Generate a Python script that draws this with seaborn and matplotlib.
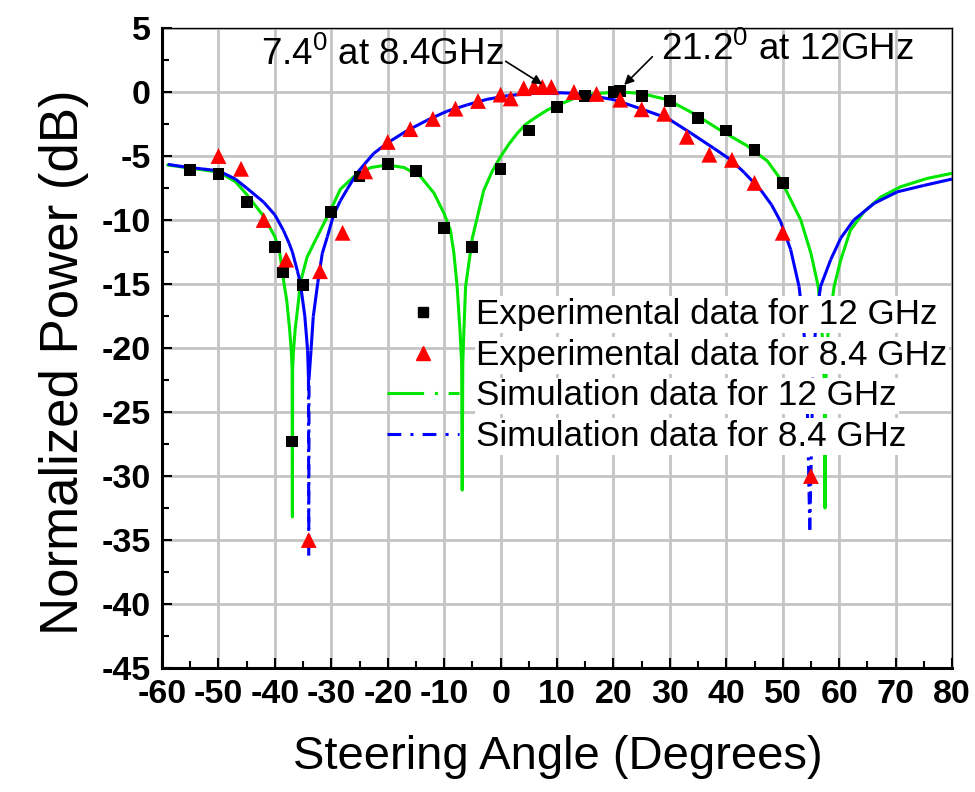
import numpy as np
import matplotlib
matplotlib.use("Agg")
import matplotlib.pyplot as plt
import seaborn as sns
from matplotlib.collections import LineCollection
from matplotlib.lines import Line2D

# Measured beam steering, 12 GHz
exp12_angle = [-55, -50, -45, -40, -38.6, -37, -35, -30, -25, -20, -15, -10, -5,
               0, 5, 10, 15, 20, 21.2, 25, 30, 35, 40, 45, 50]
exp12_power = [-6.1, -6.4, -8.6, -12.1, -14.1, -27.3, -15.1, -9.4, -6.6, -5.6, -6.2,
               -10.6, -12.1, -6.0, -3.0, -1.2, -0.3, 0.0, 0.1, -0.3, -0.7, -2.0,
               -3.0, -4.5, -7.1]

# Measured beam steering, 8.4 GHz
exp84_angle = [-50, -46, -42, -38, -34, -32, -28, -24, -20, -16, -12, -8, -4, 0,
               1.8, 4.1, 5.9, 7.4, 9.0, 13, 17, 21.2, 25, 29, 33, 37, 41, 45, 50, 55]
exp84_power = [-5.0, -6.0, -10.0, -13.1, -35.0, -14.0, -11.0, -6.2, -3.9, -2.9,
               -2.1, -1.3, -0.7, -0.2, -0.5, 0.3, 0.4, 0.4, 0.4, 0.0, -0.15, -0.6,
               -1.35, -1.7, -3.5, -4.9, -5.3, -7.1, -11.0, -30.0]

# Simulated pattern, 12 GHz
sim12_angle = [-59, -55, -50, -47, -45, -42, -40, -39.2, -38.7, -38.4, -37.9, -37.4,
               -37.1, -36.95, -36.9, -36.85, -36.7, -36.4, -35.8, -35.5, -34.3, -32.5,
               -30.1, -28.4, -26, -23, -20.1, -17.1, -14.2, -11.8, -10, -8.9, -8.3,
               -7.7, -7.2, -6.9, -6.8, -6.7, -6.5, -6.2, -5.0, -3.0, -1.5, 0, 1.5, 3,
               4.5, 6.5, 8.3, 10.3, 13, 16, 20, 21.2, 24.8, 29.6, 34.3, 39, 43.7,
               47.3, 49.6, 53.2, 55, 56.3, 57.0, 57.4, 57.5, 57.6, 58.0, 59.1, 60.3,
               62, 64.4, 67.4, 70.9, 75.6, 80]
sim12_power = [-5.7, -5.95, -6.25, -7.0, -8.0, -9.7, -11.3, -12.4, -13.9, -14.9,
               -16.3, -18.5, -20.2, -21.5, -33.2, -21.5, -20.2, -18.5, -16.25, -14.9,
               -12.9, -11.3, -9.2, -7.6, -6.6, -5.9, -5.7, -5.9, -6.6, -7.9, -9.5,
               -10.8, -12.5, -15.2, -18.6, -21.2, -31.1, -21.2, -18.6, -15.2, -11.4,
               -7.7, -6.2, -5.05, -4.05, -3.2, -2.5, -1.9, -1.4, -1.0, -0.5, -0.16,
               -0.02, 0.0, -0.1, -0.6, -1.7, -3.0, -4.2, -5.4, -6.8, -10.0, -12.6,
               -15.2, -19.0, -23.0, -32.5, -23.0, -19.0, -15.2, -13.1, -10.8, -9.35,
               -8.2, -7.4, -6.75, -6.35]

# Simulated pattern, 8.4 GHz
sim84_angle = [-59, -56, -53, -50, -47, -45, -42, -40, -38.5, -37.5, -36.9, -36,
               -35.5, -34.7, -34.2, -34.05, -34.0, -33.95, -33.6, -33.2, -32.4,
               -31.6, -30.7, -29.6, -28.4, -27.2, -25.4, -22.5, -19.8, -16.5, -13,
               -9.5, -5.9, -2.4, 1.2, 4.7, 7.4, 10, 13, 17.1, 20.1, 24.8, 29.6, 33.7,
               37.8, 40.8, 43.2, 46.1, 48, 49.6, 51.4, 52.9, 53.5, 54.2, 54.8, 55.4,
               56.0, 56.7, 58.5, 60.3, 62.6, 66.2, 70.3, 75, 80]
sim84_power = [-5.65, -5.85, -6.0, -6.15, -6.8, -7.5, -8.6, -9.6, -10.8, -11.8,
               -12.5, -14.0, -14.9, -17.5, -20.2, -22.4, -36.2, -22.4, -20.2, -17.55,
               -14.9, -12.6, -11.3, -9.6, -8.5, -7.6, -6.3, -4.8, -3.9, -3.0, -2.2,
               -1.5, -1.0, -0.57, -0.29, -0.14, -0.05, -0.05, -0.1, -0.37, -0.6, -1.3,
               -2.05, -3.2, -4.4, -5.3, -6.3, -7.65, -8.8, -10.1, -12.3, -15.2, -17.5,
               -21.0, -34.2, -21.0, -17.5, -15.2, -13.1, -11.4, -10.0, -8.7, -7.8,
               -7.3, -6.8]

x_ticks = list(range(-60, 81, 10))
y_ticks = list(range(-45, 6, 5))

legend_labels = ["Experimental data for 12 GHz", "Experimental data for 8.4 GHz",
                 "Simulation data for 12 GHz", "Simulation data for 8.4 GHz"]

GREEN = "#00e600"
BLUE = "#0000ff"

sns.set_theme(style="white")
plt.rcParams["font.family"] = ["Liberation Sans", "DejaVu Sans"]
plt.rcParams["mathtext.fontset"] = "custom"
plt.rcParams["mathtext.rm"] = "Liberation Sans"
plt.rcParams["mathtext.it"] = "Liberation Sans:italic"
plt.rcParams["mathtext.bf"] = "Liberation Sans:bold"
for key in ("text.color", "axes.labelcolor", "xtick.color", "ytick.color"):
    plt.rcParams[key] = "black"

fig, ax = plt.subplots(figsize=(9.75, 7.92), dpi=100)
fig.subplots_adjust(left=0.1662, right=0.9764, top=0.9646, bottom=0.1566)
ax.set_xlim(-60, 80)
ax.set_ylim(-45, 5)
ax.set_xticks(x_ticks)
ax.set_yticks(y_ticks)
ax.set_xticklabels([str(t) for t in x_ticks])
ax.set_yticklabels([str(t) for t in y_ticks])
ax.set_xticks(np.arange(-55, 80, 10), minor=True)
ax.set_yticks(np.arange(-42.5, 5, 5), minor=True)

ax.grid(True, which="major", color="#c4c4c4", linewidth=2.0)
ax.set_axisbelow(True)

for side in ("left", "bottom"):
    ax.spines[side].set_linewidth(2.2)
    ax.spines[side].set_color("black")
for side in ("top", "right"):
    ax.spines[side].set_linewidth(1.0)
    ax.spines[side].set_color("black")

ax.tick_params(axis="both", which="both", direction="in", color="black",
               left=True, bottom=True, top=False, right=False)
ax.tick_params(axis="both", which="major", length=7, width=1.5, labelsize=24.5, pad=8)
ax.tick_params(axis="both", which="minor", length=5, width=1.5)
for lab in ax.get_xticklabels() + ax.get_yticklabels():
    lab.set_fontweight("bold")

LW = 2.2

# 12 GHz simulation curve
sns.lineplot(x=sim12_angle, y=sim12_power, sort=False, estimator=None,
             color=GREEN, linewidth=LW, ax=ax, zorder=2)

# 8.4 GHz simulation curve: each segment restarts the dash pattern,
# so closely spaced samples read as solid and long jumps read as dashed
pts = np.column_stack([sim84_angle, sim84_power])
segs = np.stack([pts[:-1], pts[1:]], axis=1)
disp = ax.transData.transform(pts)
seg_len = np.hypot(*np.diff(disp, axis=0).T)
blue_dash = (0, (4, 1.8, 1.0, 1.8))
styles = ["solid" if L < 100 else blue_dash for L in seg_len]
ax.add_collection(LineCollection(segs, colors=BLUE, linewidths=LW,
                                 linestyles=styles, zorder=2))

# Measured points
sns.scatterplot(x=exp12_angle, y=exp12_power, marker="s", s=72, color="black",
                edgecolor="none", ax=ax, zorder=4, legend=False)
sns.scatterplot(x=exp84_angle, y=exp84_power, marker="^", s=130, color="#ff0000",
                edgecolor="none", ax=ax, zorder=5, legend=False)

ax.set_xlabel("Steering Angle (Degrees)", fontsize=34)
ax.set_ylabel("Normalized Power (dB)", fontsize=38)
ax.xaxis.set_label_coords(0.501, -0.105)
ax.yaxis.set_label_coords(-0.093, 0.477)

# Beam peak annotations
ax.text(0.5, 2.9, r"7.4$^{\mathregular{0}}$ at 8.4GHz", fontsize=26.5,
        ha="right", va="center", zorder=6)
ax.annotate("", xy=(7.4, 0.6), xytext=(0.9, 2.4),
            arrowprops=dict(arrowstyle="-|>", color="black", lw=1.2,
                            mutation_scale=14, shrinkA=0, shrinkB=0), zorder=6)
ax.text(28.4, 3.3, r"21.2$^{\mathregular{0}}$ at 12GHz", fontsize=26.5,
        ha="left", va="center", zorder=6)
ax.annotate("", xy=(21.9, 0.55), xytext=(26.9, 2.76),
            arrowprops=dict(arrowstyle="-|>", color="black", lw=1.2,
                            mutation_scale=14, shrinkA=0, shrinkB=0), zorder=6)

handles = [
    Line2D([], [], marker="s", color="black", linestyle="none", markersize=7.5),
    Line2D([], [], marker="^", color="#ff0000", linestyle="none", markersize=10.5),
    Line2D([], [], color=GREEN, linewidth=LW, linestyle=(0, (12, 3.5, 1.0, 3.5))),
    Line2D([], [], color=BLUE, linewidth=LW, linestyle=(0, (4.5, 3, 1.0, 3))),
]
leg = ax.legend(handles, legend_labels, loc="upper left",
                bbox_to_anchor=(0.2848, 0.578), frameon=False, fontsize=25.2,
                handlelength=2.05, handletextpad=0.5, labelspacing=0.22,
                borderpad=0, borderaxespad=0)
leg.set_zorder(7)
for t in leg.get_texts():
    t.set_bbox(dict(boxstyle="square,pad=0.05", facecolor="white", edgecolor="none"))

fig.savefig("out.png", dpi=100, facecolor="white")
